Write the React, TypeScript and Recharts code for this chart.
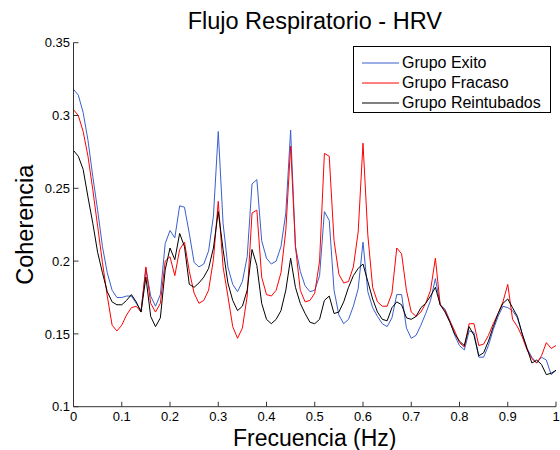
import React from 'react';
import { LineChart, Line, XAxis, YAxis, Legend, Label } from 'recharts';

// frecuencia de 0 a 1 Hz, paso 0.01
const freq = Array.from({ length: 101 }, (_, i) => i / 100);

const exito = [
  0.318, 0.314, 0.302, 0.283, 0.258, 0.235, 0.210, 0.192, 0.180, 0.175,
  0.175, 0.176, 0.176, 0.171, 0.166, 0.195, 0.176, 0.169, 0.177, 0.212,
  0.221, 0.216, 0.238, 0.237, 0.219, 0.199, 0.196, 0.198, 0.207, 0.231,
  0.289, 0.226, 0.196, 0.184, 0.179, 0.186, 0.203, 0.253, 0.256, 0.214,
  0.202, 0.198, 0.200, 0.210, 0.233, 0.290, 0.210, 0.193, 0.183, 0.179,
  0.180, 0.190, 0.234, 0.228, 0.180, 0.163, 0.157, 0.160, 0.169, 0.181,
  0.213, 0.179, 0.168, 0.162, 0.157, 0.155, 0.161, 0.177, 0.177, 0.154,
  0.147, 0.149, 0.156, 0.164, 0.173, 0.188, 0.170, 0.167, 0.159, 0.149,
  0.142, 0.139, 0.152, 0.151, 0.134, 0.134, 0.142, 0.153, 0.162, 0.169,
  0.168, 0.166, 0.161, 0.150, 0.140, 0.134, 0.130, 0.134, 0.132, 0.122,
  0.125,
];

const fracaso = [
  0.304, 0.300, 0.289, 0.272, 0.249, 0.224, 0.199, 0.176, 0.156, 0.152,
  0.156, 0.163, 0.168, 0.169, 0.165, 0.196, 0.171, 0.165, 0.171, 0.200,
  0.203, 0.190, 0.208, 0.213, 0.193, 0.178, 0.171, 0.173, 0.180, 0.201,
  0.241, 0.196, 0.176, 0.155, 0.147, 0.154, 0.176, 0.233, 0.235, 0.189,
  0.177, 0.176, 0.180, 0.192, 0.221, 0.279, 0.210, 0.180, 0.172, 0.173,
  0.178, 0.200, 0.274, 0.272, 0.214, 0.191, 0.185, 0.186, 0.196, 0.220,
  0.281, 0.218, 0.182, 0.172, 0.169, 0.169, 0.178, 0.209, 0.205, 0.180,
  0.165, 0.162, 0.165, 0.171, 0.180, 0.202, 0.170, 0.166, 0.159, 0.152,
  0.144, 0.141, 0.157, 0.157, 0.142, 0.143, 0.149, 0.157, 0.164, 0.172,
  0.184, 0.160, 0.155, 0.148, 0.139, 0.133, 0.130, 0.135, 0.144, 0.140,
  0.142,
];

const reintubados = [
  0.276, 0.272, 0.263, 0.244, 0.226, 0.206, 0.192, 0.179, 0.172, 0.170,
  0.170, 0.173, 0.177, 0.172, 0.165, 0.189, 0.162, 0.155, 0.161, 0.194,
  0.209, 0.201, 0.219, 0.210, 0.184, 0.182, 0.185, 0.189, 0.195, 0.209,
  0.234, 0.208, 0.185, 0.173, 0.166, 0.169, 0.180, 0.208, 0.197, 0.171,
  0.160, 0.157, 0.160, 0.166, 0.180, 0.202, 0.182, 0.171, 0.164, 0.158,
  0.157, 0.160, 0.173, 0.176, 0.164, 0.165, 0.172, 0.182, 0.190, 0.195,
  0.198, 0.186, 0.174, 0.165, 0.160, 0.159, 0.168, 0.172, 0.170, 0.161,
  0.160, 0.162, 0.168, 0.171, 0.176, 0.182, 0.170, 0.165, 0.158, 0.150,
  0.145, 0.142, 0.155, 0.149, 0.135, 0.137, 0.145, 0.155, 0.164, 0.171,
  0.174, 0.168, 0.162, 0.150, 0.140, 0.130, 0.132, 0.129, 0.122, 0.123,
  0.125,
];

const xTicks = [0, 0.1, 0.2, 0.3, 0.4, 0.5, 0.6, 0.7, 0.8, 0.9, 1];
const yTicks = [0.1, 0.15, 0.2, 0.25, 0.3, 0.35];

const series = [
  { key: 'exito', name: 'Grupo Exito', color: '#3a5fcd' },
  { key: 'fracaso', name: 'Grupo Fracaso', color: '#ff0000' },
  { key: 'reintubados', name: 'Grupo Reintubados', color: '#000000' },
];

const FONT = '"Liberation Sans", Arial, sans-serif';

const data = freq.map((f, i) => ({
  f,
  exito: exito[i],
  fracaso: fracaso[i],
  reintubados: reintubados[i],
}));

const renderLegend = () => (
  <div
    style={{
      boxSizing: 'border-box',
      width: 198,
      height: 67,
      border: '1px solid #000',
      background: '#fff',
      paddingTop: 6,
      paddingLeft: 8,
      fontFamily: FONT,
      fontSize: 16,
      color: '#000',
    }}
  >
    {series.map(s => (
      <div key={s.key} style={{ display: 'flex', alignItems: 'center', height: 20, whiteSpace: 'nowrap' }}>
        <svg width={37} height={20} style={{ marginRight: 3 }}>
          <line x1={0} y1={10} x2={37} y2={10} stroke={s.color} strokeWidth={1} />
        </svg>
        <span>{s.name}</span>
      </div>
    ))}
  </div>
);

export default function App() {
  return (
    <div style={{ position: 'absolute', left: 0, top: 0, width: 560, height: 450, background: '#fff' }}>
      <div
        style={{
          position: 'absolute',
          left: 73.5,
          width: 482.5,
          top: 9,
          textAlign: 'center',
          fontFamily: FONT,
          fontSize: 23.5,
          lineHeight: '24px',
          color: '#000',
          whiteSpace: 'nowrap',
        }}
      >
        Flujo Respiratorio - HRV
      </div>
      <LineChart width={560} height={450} data={data} margin={{ top: 42.7, right: 4, left: 0, bottom: 0 }}>
        <XAxis
          dataKey="f"
          type="number"
          domain={[0, 1]}
          ticks={xTicks}
          interval={0}
          height={43.3}
          tickSize={-5}
          tickMargin={10}
          stroke="#333"
          tick={{ fill: '#000', fontSize: 13, fontFamily: FONT }}
          tickFormatter={v => String(v)}
        >
          <Label
            content={({ viewBox }: any) => (
              <text
                x={viewBox.x + viewBox.width / 2}
                y={446}
                textAnchor="middle"
                fontSize={23}
                fontFamily={FONT}
                fill="#000"
              >
                Frecuencia (Hz)
              </text>
            )}
          />
        </XAxis>
        <YAxis
          type="number"
          domain={[0.1, 0.35]}
          ticks={yTicks}
          interval={0}
          width={73.5}
          tickSize={-5}
          tickMargin={8.5}
          stroke="#333"
          allowDataOverflow
          tick={{ fill: '#000', fontSize: 13, fontFamily: FONT }}
          tickFormatter={v => String(v)}
        >
          <Label
            content={({ viewBox }: any) => (
              <text
                x={33.5}
                y={viewBox.y + viewBox.height / 2}
                transform={`rotate(-90, 33.5, ${viewBox.y + viewBox.height / 2})`}
                textAnchor="middle"
                fontSize={23.5}
                fontFamily={FONT}
                fill="#000"
              >
                Coherencia
              </text>
            )}
          />
        </YAxis>
        <Legend
          layout="vertical"
          align="center"
          verticalAlign="middle"
          wrapperStyle={{ left: 353, top: 46, width: 198, height: 67 }}
          content={renderLegend}
        />
        {series.map(s => (
          <Line
            key={s.key}
            type="linear"
            dataKey={s.key}
            name={s.name}
            stroke={s.color}
            strokeWidth={1}
            dot={false}
            activeDot={false}
            isAnimationActive={false}
          />
        ))}
      </LineChart>
    </div>
  );
}
